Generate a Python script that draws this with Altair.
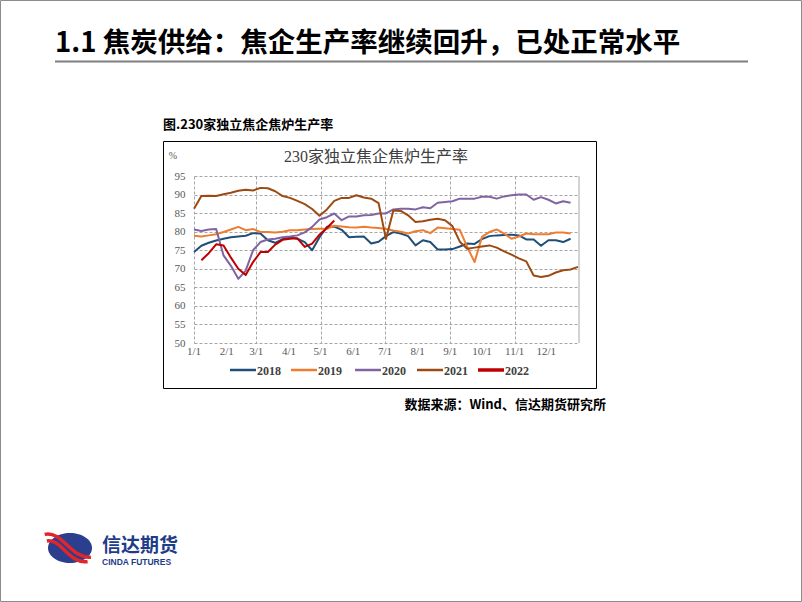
import altair as alt
import pandas as pd

# ---------------- data ----------------
years = ["2018", "2019", "2020", "2021", "2022"]
colors = ["#1F4E79", "#ED7D31", "#8064A2", "#9C4A12", "#C00000"]
widths = [2, 2, 2, 2, 3]

week_days = [0, 7, 14, 21, 28, 35, 42, 49, 56, 63, 70, 77, 84, 91, 98, 105, 112,
             119, 126, 133, 140, 147, 154, 161, 168, 175, 182, 189, 196, 203, 210,
             217, 224, 231, 238, 245, 252, 259, 266, 273, 280, 287, 294, 301, 308,
             315, 322, 329, 336, 343, 350, 357, 364]

v2018 = [74.5, 76.2, 77.0, 77.6, 78.1, 78.5, 78.7, 78.9, 79.6, 79.5, 77.7, 77.0,
         78.0, 78.5, 78.1, 77.2, 75.0, 78.5, 81.3, 81.4, 80.5, 78.5, 78.6, 78.7,
         76.8, 77.3, 78.8, 79.9, 79.5, 78.8, 76.3, 77.7, 77.2, 75.2, 75.2, 75.3,
         76.0, 76.8, 76.7, 78.0, 78.8, 79.0, 79.1, 79.2, 79.0, 77.9, 77.9, 76.2,
         77.7, 77.7, 77.2, 78.1]
v2019 = [78.9, 78.7, 79.0, 79.3, 79.9, 80.6, 81.3, 80.4, 80.7, 79.9, 79.9, 79.8,
         80.0, 80.4, 80.4, 80.6, 80.7, 80.8, 80.8, 81.6, 81.4, 81.2, 81.1, 81.3,
         81.1, 81.0, 80.7, 80.3, 80.0, 79.5, 80.1, 80.4, 79.6, 81.1, 80.9, 80.7,
         80.5, 75.9, 71.8, 78.6, 79.9, 80.6, 79.5, 78.1, 78.7, 79.5, 79.3, 79.3,
         79.3, 79.8, 79.8, 79.5]
v2020 = [80.6, 80.2, 80.6, 80.7, 73.6, 70.8, 67.3, 69.5, 75.0, 77.2, 77.9, 78.1,
         78.5, 78.7, 79.0, 79.8, 81.3, 83.3, 83.9, 84.9, 83.1, 84.1, 84.1, 84.4,
         84.5, 84.9, 84.9, 86.0, 86.2, 86.2, 86.0, 86.6, 86.3, 87.8, 88.0, 88.2,
         88.9, 88.9, 88.9, 89.4, 89.4, 88.9, 89.5, 89.8, 90.0, 90.0, 88.6, 89.3,
         88.6, 87.6, 88.2, 87.8]
v2021 = [86.2, 89.6, 89.7, 89.6, 90.1, 90.5, 91.0, 91.3, 91.1, 91.8, 91.7, 90.9,
         89.6, 89.1, 88.3, 87.4, 86.1, 84.3, 86.0, 88.3, 89.1, 89.1, 89.8, 89.2,
         88.9, 87.7, 78.0, 85.7, 85.6, 84.4, 82.6, 82.8, 83.2, 83.5, 83.1, 81.5,
         77.3, 75.4, 75.7, 76.0, 76.3, 75.7, 74.7, 73.8, 72.8, 72.0, 68.2, 67.8,
         68.1, 69.0, 69.6, 69.8, 70.5]
v2022 = [72.3, 74.2, 76.6, 76.3, 73.0, 70.0, 68.3, 71.8, 74.5, 74.5, 76.5, 77.8,
         78.1, 78.2, 75.9, 76.8, 79.2, 81.0, 83.0]
series = [v2018, v2019, v2020, v2021, v2022]
first_week = [0, 0, 0, 0, 1]

month_days = [0, 31, 59, 90, 120, 151, 181, 212, 243, 273, 304, 334]
month_labels = ["1/1", "2/1", "3/1", "4/1", "5/1", "6/1", "7/1", "8/1", "9/1",
                "10/1", "11/1", "12/1"]
y_ticks = [50, 55, 60, 65, 70, 75, 80, 85, 90, 95]

rows = []
for yr, vals, fw in zip(years, series, first_week):
    for k, v in enumerate(vals):
        rows.append({"day": week_days[fw + k], "value": v, "year": yr})
df = pd.DataFrame(rows)
months_df = pd.DataFrame({"day": month_days, "label": month_labels})

# ---------------- layout ----------------
OX, OY = 194, 176          # plot origin on the page
PW, PH = 385, 167          # plot size
one = pd.DataFrame({"k": [0]})

SERIF = "Liberation Serif, Noto Sans CJK SC"
CJK = "Noto Sans CJK SC"

xscale = alt.Scale(domain=[0, 365], nice=False, zero=False)
yscale = alt.Scale(domain=[50, 95], nice=False, zero=False)


def txt(s, x, y, **kw):
    return alt.Chart(one).mark_text(text=s, **kw).encode(
        x=alt.value(x - OX), y=alt.value(y - OY))


def box(x1, y1, x2, y2, **kw):
    return alt.Chart(one).mark_rect(**kw).encode(
        x=alt.value(x1 - OX), x2=alt.value(x2 - OX),
        y=alt.value(y1 - OY), y2=alt.value(y2 - OY))


def hline(x1, x2, y, **kw):
    return alt.Chart(one).mark_rule(**kw).encode(
        x=alt.value(x1 - OX), x2=alt.value(x2 - OX), y=alt.value(y - OY))


layers = []
# page frame
layers.append(box(0.5, 0.5, 801.5, 601.5, fillOpacity=0, stroke="#8c8c8c", strokeWidth=1))
# header
layers.append(txt("1.1 焦炭供给：焦企生产率继续回升，已处正常水平", 55, 44,
                  font=CJK, fontSize=27.5, fontWeight="bold", align="left",
                  baseline="middle", color="#000000"))
layers.append(hline(55, 748, 61.5, color="#7f7f7f", strokeWidth=2))
# caption
layers.append(txt("图.230家独立焦企焦炉生产率", 163, 125, font=CJK, fontSize=13,
                  fontWeight="bold", align="left", baseline="middle", color="#000000"))
# chart box
layers.append(box(163.5, 141.5, 596.5, 388.5, fillOpacity=0, stroke="#000000", strokeWidth=1))
# chart title and unit
layers.append(txt("230家独立焦企焦炉生产率", 376, 157, font=SERIF, fontSize=16,
                  align="center", baseline="middle", color="#404040"))
layers.append(txt("%", 173, 156, font=SERIF, fontSize=10, align="center",
                  baseline="middle", color="#595959"))

lines = alt.Chart(df).mark_line(strokeJoin="round").encode(
    x=alt.X("day:Q", scale=xscale,
            axis=alt.Axis(values=month_days, grid=True, labels=False,
                          gridDash=[3, 2], gridColor="#a6a6a6", gridWidth=1,
                          domain=False, ticks=False, title=None)),
    y=alt.Y("value:Q", scale=yscale,
            axis=alt.Axis(values=y_ticks, grid=True, gridDash=[3, 2],
                          gridColor="#a6a6a6", gridWidth=1, domain=False,
                          ticks=False, labelFont="Liberation Serif",
                          labelFontSize=11, labelColor="#595959", labelPadding=9,
                          title=None)),
    color=alt.Color("year:N", scale=alt.Scale(domain=years, range=colors), legend=None),
    strokeWidth=alt.StrokeWidth("year:N", scale=alt.Scale(domain=years, range=widths),
                                legend=None),
)
xlabels = alt.Chart(months_df).mark_text(
    font="Liberation Serif", fontSize=11, color="#595959", baseline="middle",
    align="center").encode(x=alt.X("day:Q", scale=xscale), y=alt.value(PH + 9),
                           text="label:N")
right_edge = alt.Chart(pd.DataFrame({"day": [365]})).mark_rule(
    color="#a6a6a6", strokeWidth=1).encode(x=alt.X("day:Q", scale=xscale))
layers += [right_edge, xlabels, lines]

# legend
leg_x = [230, 291, 355, 417, 478]
for yr, col, w, lx in zip(years, colors, widths, leg_x):
    layers.append(hline(lx, lx + 26, 370, color=col, strokeWidth=w + 0.5))
    layers.append(txt(yr, lx + 27, 370.5, font="Liberation Serif", fontSize=12,
                      fontWeight="bold", align="left", baseline="middle",
                      color="#404040"))

# source
layers.append(txt("数据来源：Wind、信达期货研究所", 606, 405, font=CJK, fontSize=13,
                  fontWeight="bold", align="right", baseline="middle", color="#000000"))

# logo
ellipse = "M -1 0 A 1 0.68 0 1 0 1 0 A 1 0.68 0 1 0 -1 0 Z"
layers.append(alt.Chart(one).mark_point(shape=ellipse, size=1936, filled=True,
                                        opacity=1, color="#2B3F8E").encode(
    x=alt.value(70 - OX), y=alt.value(548 - OY)))
for sw, p in [(3.5, "M -1.15 -0.62 C -0.35 -0.8 0.05 0.5 0.95 0.42"),
              (3.5, "M -1.05 -0.32 C -0.4 -0.45 -0.05 0.75 0.8 0.62")]:
    layers.append(alt.Chart(one).mark_point(shape=p, size=1936, filled=False,
                                            opacity=1, stroke="#E0262B",
                                            strokeWidth=sw).encode(
        x=alt.value(70 - OX), y=alt.value(548 - OY)))
layers.append(txt("信达期货", 102, 546, font=CJK, fontSize=19, fontWeight="bold",
                  align="left", baseline="middle", color="#1F3C88"))
layers.append(txt("CINDA FUTURES", 102, 562, font="Liberation Sans", fontSize=8.5,
                  fontWeight="bold", align="left", baseline="middle", color="#1F3C88"))

chart = alt.layer(*layers).properties(
    width=PW, height=PH,
    padding={"left": OX, "top": OY, "right": 802 - OX - PW, "bottom": 602 - OY - PH},
    autosize=alt.AutoSizeParams(type="none"),
    background="white",
).configure_view(stroke=None)

chart.save("out.html", embed_options={"renderer": "svg", "actions": False})
